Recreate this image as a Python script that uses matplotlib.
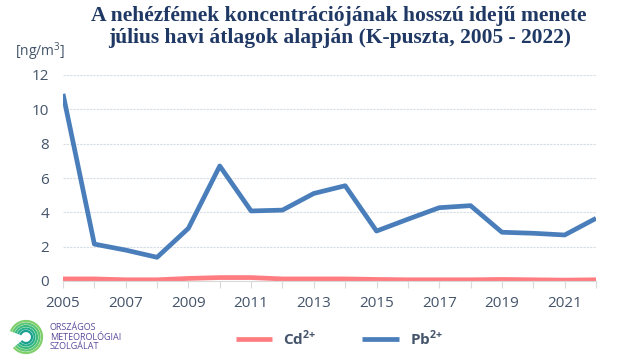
import matplotlib.pyplot as plt
import matplotlib.patches as patches
import numpy as np

years = list(range(2005, 2023))
pb = [10.9, 2.15, 1.8, 1.38, 3.07, 6.7, 4.08, 4.13, 5.1, 5.55, 2.91, 3.6, 4.27, 4.39, 2.84, 2.78, 2.68, 3.65]
cd = [0.12, 0.12, 0.07, 0.07, 0.15, 0.2, 0.2, 0.12, 0.12, 0.12, 0.09, 0.07, 0.07, 0.07, 0.09, 0.07, 0.05, 0.07]
title = 'A nehézfémek koncentrációjának hosszú idejű menete\njúlius havi átlagok alapján (K-puszta, 2005 - 2022)'
logo_text = 'ORSZÁGOS\nMETEOROLÓGIAI\nSZOLGÁLAT'

text_col = '#44546A'
pb_col = '#4A7EBB'
cd_col = '#FF7C80'

plt.rcParams['mathtext.fontset'] = 'custom'
plt.rcParams['mathtext.rm'] = 'Open Sans'
plt.rcParams['mathtext.bf'] = 'Open Sans:bold'

fig = plt.figure(figsize=(6.4, 3.6), dpi=100)
ax = fig.add_axes([63/640, 1 - 281/360, (596-63)/640, (281-75)/360])

ax.plot(years, cd, color=cd_col, lw=3.4, solid_capstyle='butt', label='Cd$^{\\mathbf{2{+}}}$')
ax.plot(years, pb, color=pb_col, lw=3.4, solid_capstyle='butt', label='Pb$^{\\mathbf{2{+}}}$')

ax.set_xlim(2005, 2022)
ax.set_ylim(0, 12)
ax.set_yticks(range(0, 13, 2))
ax.set_xticks(years)
ax.set_xticklabels([str(y) if (y - 2005) % 2 == 0 else '' for y in years])
ax.grid(axis='y', color='#D6DCE5', lw=0.8, ls=(0, (2, 1)))
ax.set_axisbelow(True)
for s in ['top', 'right', 'left']:
    ax.spines[s].set_visible(False)
ax.spines['bottom'].set_color('#D9D9D9')
ax.tick_params(axis='y', length=0, labelsize=11, labelcolor=text_col, pad=10)
ax.tick_params(axis='x', length=5, color='#D9D9D9', labelsize=11, labelcolor=text_col, pad=6)
for lab in ax.get_xticklabels() + ax.get_yticklabels():
    lab.set_family('Open Sans')

fig.text(0.53, 1 - 6/360, title, ha='center', va='top', fontsize=15.5, fontweight='bold',
         color='#1F3864', family='Liberation Serif', linespacing=1.15)
fig.text(15/640, 1 - 52/360, '[ng/m$^3$]', fontsize=10, color=text_col, va='center', family='Open Sans')

leg = fig.legend(loc='center left', bbox_to_anchor=(222/640, 1 - 338/360), ncol=2, frameon=False,
                 handlelength=2.4, columnspacing=3.0, handletextpad=0.7,
                 prop={'family': 'Open Sans', 'size': 11, 'weight': 'bold'})
for t in leg.get_texts():
    t.set_color(text_col)

# logo
lax = fig.add_axes([0, 0, 1, 1], facecolor='none')
lax.set_xlim(0, 640)
lax.set_ylim(360, 0)
lax.axis('off')
greens = ['#1A9E8F', '#27AE8A', '#3DBB7E', '#5CC674', '#7FCF6A']
for i, r in enumerate(np.linspace(6, 16, 5)):
    lax.add_patch(patches.Arc((26, 337), 2 * r, 2 * r, theta1=200, theta2=200 + 300,
                              color=greens[i], lw=1.6))
lax.text(50, 337, logo_text, fontsize=6.5, color='#5B4A9B', va='center', ha='left',
         linespacing=1.05, family='Open Sans')

plt.savefig('out.png', dpi=100)
